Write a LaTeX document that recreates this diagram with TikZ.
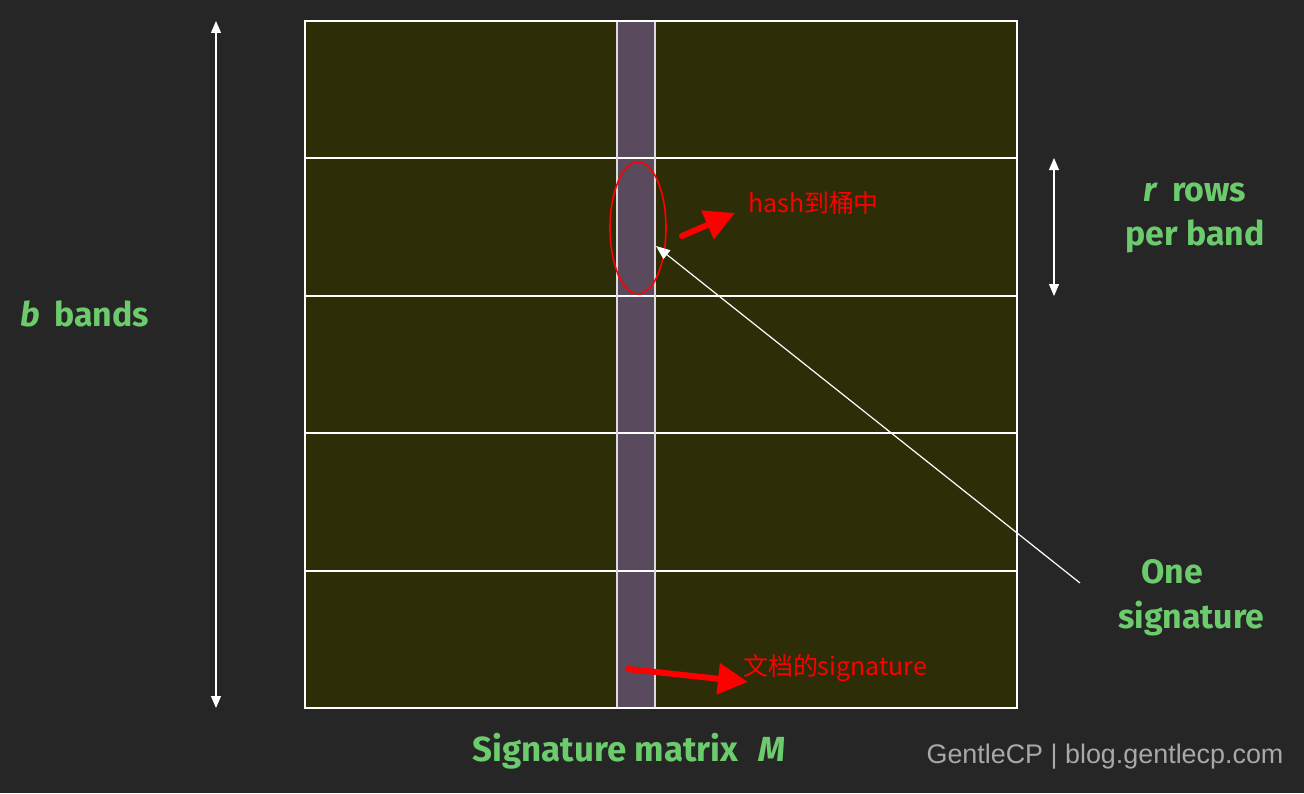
\documentclass[tikz,border=0pt]{standalone}
\usepackage{fontspec}
\setmainfont{Fira Sans}
\newfontfamily\cjk{Noto Sans CJK SC}
\newfontfamily\markfont{Liberation Sans}
\usetikzlibrary{arrows.meta}
\definecolor{bg}{HTML}{262626}
\definecolor{bandfill}{HTML}{2D2D08}
\definecolor{colfill}{HTML}{5A4A5E}
\definecolor{labelgreen}{HTML}{6CCB6C}
\definecolor{notered}{HTML}{FF0000}
\definecolor{markgray}{HTML}{A8A8A8}

\begin{document}
\begin{tikzpicture}[x=1bp,y=-1bp,>=Stealth,
  greenlabel/.style={text=labelgreen,font=\fontsize{34}{45}\selectfont\bfseries,align=center,inner sep=0pt},
  rednote/.style={text=notered,font=\cjk\fontsize{25}{30}\selectfont,anchor=west,inner sep=0pt},
  redarrow/.style={notered,line width=6bp,line cap=round,-{Triangle[length=30bp,width=30bp]}},
  span/.style={white,line width=1.2bp,{Triangle[length=12bp,width=10bp]}-{Triangle[length=12bp,width=10bp]}}]
\fill[bg] (0,0) rectangle (1304,793);
\useasboundingbox (0,0) rectangle (1304,793);
% signature matrix with its bands
\fill[bandfill] (305,21) rectangle (1017,708);
\fill[colfill] (617,21) rectangle (655,708);
\foreach \y in {158,296,433,571}
  \draw[white,line width=1.2bp] (305,\y) -- (1017,\y);
\draw[white!80!colfill,line width=1.2bp] (617,21) -- (617,708) (655,21) -- (655,708);
\draw[white,line width=1.4bp] (305,21) rectangle (1017,708);
% points
\coordinate (btop) at (216,21);
\coordinate (bbot) at (216,708);
\coordinate (rtop) at (1054,158);
\coordinate (rbot) at (1054,296);
\coordinate (sigend) at (1080,583);
\coordinate (sighit) at (656,246);
\coordinate (hashfrom) at (682,236);
\coordinate (hashto) at (735,213);
\coordinate (docfrom) at (628,669);
\coordinate (docto) at (748,682);
% labels
\node[greenlabel] (bands) at (85,314) {\textit{b}\,\ bands};
\node[greenlabel] (rows) at (1195,218) {\textit{r}\,\ rows\\per band};
\node[greenlabel,align=left,anchor=west] (onesig) at (1118,598) {\hspace*{23bp}One\\signature};
\node[greenlabel,font=\fontsize{35}{45}\selectfont\bfseries] (sigm) at (629,751) {Signature matrix\hspace{20bp}\textit{M}};
\node[rednote] (hash) at (748,203) {hash到桶中};
\node[rednote] (doc) at (743,668) {文档的signature};
\node[text=markgray,font=\markfont\fontsize{27}{32}\selectfont,inner sep=0pt] (mark) at (1105,757) {GentleCP | blog.gentlecp.com};
% connectors
\draw[span] (btop) -- (bbot);
\draw[span] (rtop) -- (rbot);
\draw[notered,line width=1.6bp] (638,228) ellipse [x radius=28,y radius=66];
\draw[white,line width=1.2bp,-{Triangle[length=14bp,width=11bp]}] (sigend) -- (sighit);
\draw[redarrow] (hashfrom) -- (hashto);
\draw[redarrow] (docfrom) -- (docto);
\end{tikzpicture}
\end{document}
